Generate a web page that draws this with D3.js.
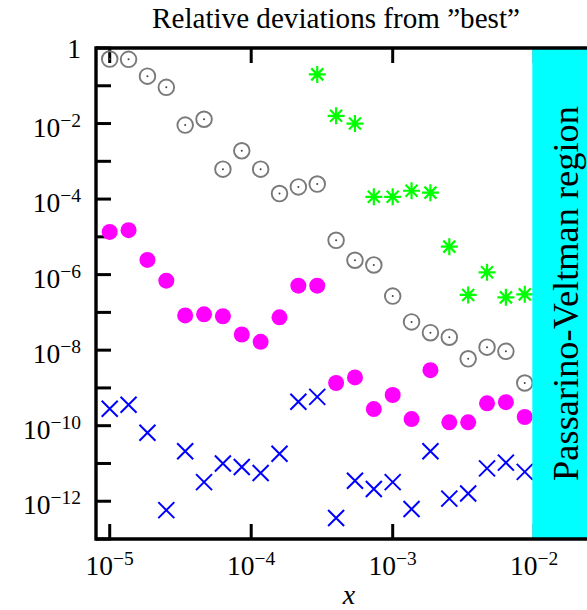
<!DOCTYPE html>
<html>
<head>
<meta charset="utf-8">
<script src="https://cdn.jsdelivr.net/npm/d3@7"></script>
<style>
  html, body { margin: 0; padding: 0; background: #fff; }
  svg { display: block; }
</style>
</head>
<body>
<svg id="chart" width="587" height="610"></svg>
<script>
// ---------------- data ----------------
const xValues = [1.0e-5, 1.359e-5, 1.848e-5, 2.512e-5, 3.415e-5, 4.642e-5, 6.310e-5, 8.577e-5,
  1.166e-4, 1.585e-4, 2.154e-4, 2.929e-4, 3.981e-4, 5.412e-4, 7.356e-4, 1.0e-3,
  1.359e-3, 1.848e-3, 2.512e-3, 3.415e-3, 4.642e-3, 6.310e-3, 8.577e-3];

const grayCircles = [0.51, 0.50, 0.18, 0.091, 0.0091, 0.013, 6.2e-4, 1.9e-3, 6.2e-4, 1.4e-4,
  2.1e-4, 2.5e-4, 8.1e-6, 2.4e-6, 1.8e-6, 2.7e-7, 5.6e-8, 2.9e-8, 2.2e-8, 5.9e-9,
  1.2e-8, 9.3e-9, 1.35e-9];

const greenStars = [null, null, null, null, null, null, null, null, null, null, null,
  0.20, 0.016, 0.010, 1.15e-4, 1.15e-4, 1.66e-4, 1.48e-4, 5.5e-6, 2.9e-7, 1.15e-6, 2.5e-7, 3.0e-7];

const magentaDots = [1.35e-5, 1.5e-5, 2.45e-6, 6.9e-7, 8.3e-8, 8.9e-8, 7.9e-8, 2.6e-8, 1.66e-8,
  7.4e-8, 5.1e-7, 5.1e-7, 1.35e-9, 1.9e-9, 2.75e-10, 6.5e-10, 1.5e-10, 2.95e-9, 1.23e-10,
  1.23e-10, 3.9e-10, 4.2e-10, 1.7e-10];

const blueCrosses = [2.8e-10, 3.6e-10, 6.5e-11, 5.8e-13, 2.1e-11, 3.2e-12, 1.0e-11, 8.1e-12,
  5.6e-12, 1.8e-11, 4.3e-10, 5.8e-10, 3.6e-13, 3.5e-12, 2.1e-12, 3.2e-12, 6.2e-13, 2.1e-11,
  1.17e-12, 1.6e-12, 7.4e-12, 1.05e-11, 6.0e-12];

const xDomain = [8e-6, 3e-2];
const yDomain = [1e-13, 1];
const xTickValues = [1e-5, 1e-4, 1e-3, 1e-2];
const xTickExponents = ["−5", "−4", "−3", "−2"];
const yTickValues = [1, 1e-1, 1e-2, 1e-3, 1e-4, 1e-5, 1e-6, 1e-7, 1e-8, 1e-9, 1e-10, 1e-11, 1e-12, 1e-13];
const yLabelValues = [1, 1e-2, 1e-4, 1e-6, 1e-8, 1e-10, 1e-12];
const yLabelExponents = [null, "−2", "−4", "−6", "−8", "−10", "−12"];
const pvStart = 0.97e-2;

const titleText = "Relative deviations from \u201Dbest\u201D";
const regionText = "Passarino-Veltman region";
const xAxisLabel = "x";

// ---------------- layout ----------------
const svg = d3.select("#chart");
const pLeft = 96, pTop = 48, pBottom = 539, pRight = 601.7;
const x = d3.scaleLog().domain(xDomain).range([pLeft, pRight]);
const y = d3.scaleLog().domain(yDomain).range([pBottom, pTop]);
const font = "'Liberation Serif', 'DejaVu Serif', serif";

const tickG = svg.append("g").attr("stroke", "#000").attr("stroke-width", 3);
tickG.selectAll(".yt").data(yTickValues).enter().append("line")
  .attr("x1", pLeft).attr("x2", pLeft + 15)
  .attr("y1", d => y(d)).attr("y2", d => y(d));
tickG.selectAll(".xb").data(xTickValues).enter().append("line")
  .attr("x1", d => x(d)).attr("x2", d => x(d))
  .attr("y1", pBottom).attr("y2", pBottom - 15);
tickG.selectAll(".xt").data(xTickValues).enter().append("line")
  .attr("x1", d => x(d)).attr("x2", d => x(d))
  .attr("y1", pTop).attr("y2", pTop + 15);

const pts = arr => xValues.map((xv, i) => ({ x: xv, v: arr[i] })).filter(d => d.v != null);

// gray open circles with center dot
const gG = svg.append("g");
gG.selectAll("circle.o").data(pts(grayCircles)).enter().append("circle")
  .attr("cx", d => x(d.x)).attr("cy", d => y(d.v)).attr("r", 7.8)
  .attr("fill", "none").attr("stroke", "#7a7a7a").attr("stroke-width", 1.9);
gG.selectAll("circle.c").data(pts(grayCircles)).enter().append("circle")
  .attr("cx", d => x(d.x)).attr("cy", d => y(d.v)).attr("r", 1)
  .attr("fill", "#444");

// magenta filled circles
svg.append("g").selectAll("circle").data(pts(magentaDots)).enter().append("circle")
  .attr("cx", d => x(d.x)).attr("cy", d => y(d.v)).attr("r", 8)
  .attr("fill", "#ff00ff");

// blue crosses
const s = 8;
svg.append("g").selectAll("path").data(pts(blueCrosses)).enter().append("path")
  .attr("d", d => {
    const cx = x(d.x), cy = y(d.v);
    return `M${cx - s},${cy - s}L${cx + s},${cy + s}M${cx - s},${cy + s}L${cx + s},${cy - s}`;
  })
  .attr("stroke", "#0000ff").attr("stroke-width", 2).attr("fill", "none");

// green asterisks
const a = 8.5, ad = 6;
svg.append("g").selectAll("path").data(pts(greenStars)).enter().append("path")
  .attr("d", d => {
    const cx = x(d.x), cy = y(d.v);
    return `M${cx},${cy - a}L${cx},${cy + a}M${cx - a},${cy}L${cx + a},${cy}` +
      `M${cx - ad},${cy - ad}L${cx + ad},${cy + ad}M${cx - ad},${cy + ad}L${cx + ad},${cy - ad}`;
  })
  .attr("stroke", "#00ff00").attr("stroke-width", 2.2).attr("fill", "none");

// Passarino-Veltman region
svg.append("rect")
  .attr("x", x(pvStart)).attr("y", pTop)
  .attr("width", pRight - x(pvStart)).attr("height", pBottom - pTop)
  .attr("fill", "#00ffff");

// spines
const spine = svg.append("g").attr("stroke", "#000").attr("stroke-width", 3.4).attr("fill", "none");
spine.append("line").attr("x1", pLeft).attr("x2", pRight).attr("y1", pTop).attr("y2", pTop);
spine.append("line").attr("x1", pLeft).attr("x2", pRight).attr("y1", pBottom).attr("y2", pBottom);
spine.append("line").attr("x1", pLeft).attr("x2", pLeft).attr("y1", pTop - 1.7).attr("y2", pBottom + 1.7);

// y tick labels
yLabelValues.forEach((v, i) => {
  const t = svg.append("text").attr("font-family", font).attr("font-size", 27.5)
    .attr("text-anchor", "end").attr("x", 81)
    .attr("y", y(v) + (yLabelExponents[i] ? 13 : 9.5));
  if (yLabelExponents[i]) {
    t.append("tspan").text("10");
    t.append("tspan").attr("font-size", 19.5).attr("dy", -10).text(yLabelExponents[i]);
  } else {
    t.text("1");
  }
});

// x tick labels
xTickValues.forEach((v, i) => {
  const t = svg.append("text").attr("font-family", font).attr("font-size", 27.5)
    .attr("text-anchor", "middle").attr("x", x(v)).attr("y", 575);
  t.append("tspan").text("10");
  t.append("tspan").attr("font-size", 19.5).attr("dy", -10).text(xTickExponents[i]);
});

// title
const title = svg.append("text").attr("font-family", font).attr("font-size", 25)
  .attr("text-anchor", "middle").attr("x", 336).attr("y", 28).text(titleText);
{
  const w = title.node().getComputedTextLength();
  title.attr("font-size", 25 * 368 / w);
}

// axis label
svg.append("text").attr("font-family", font).attr("font-style", "italic").attr("font-size", 28)
  .attr("text-anchor", "middle").attr("x", 349).attr("y", 604).text(xAxisLabel);

// region label
const rl = svg.append("text").attr("font-family", font).attr("font-size", 36)
  .attr("text-anchor", "middle")
  .attr("transform", `translate(578,${(pTop + pBottom) / 2}) rotate(-90)`).text(regionText);
{
  const w = rl.node().getComputedTextLength();
  rl.attr("font-size", 36 * 375 / w);
}
</script>
</body>
</html>
